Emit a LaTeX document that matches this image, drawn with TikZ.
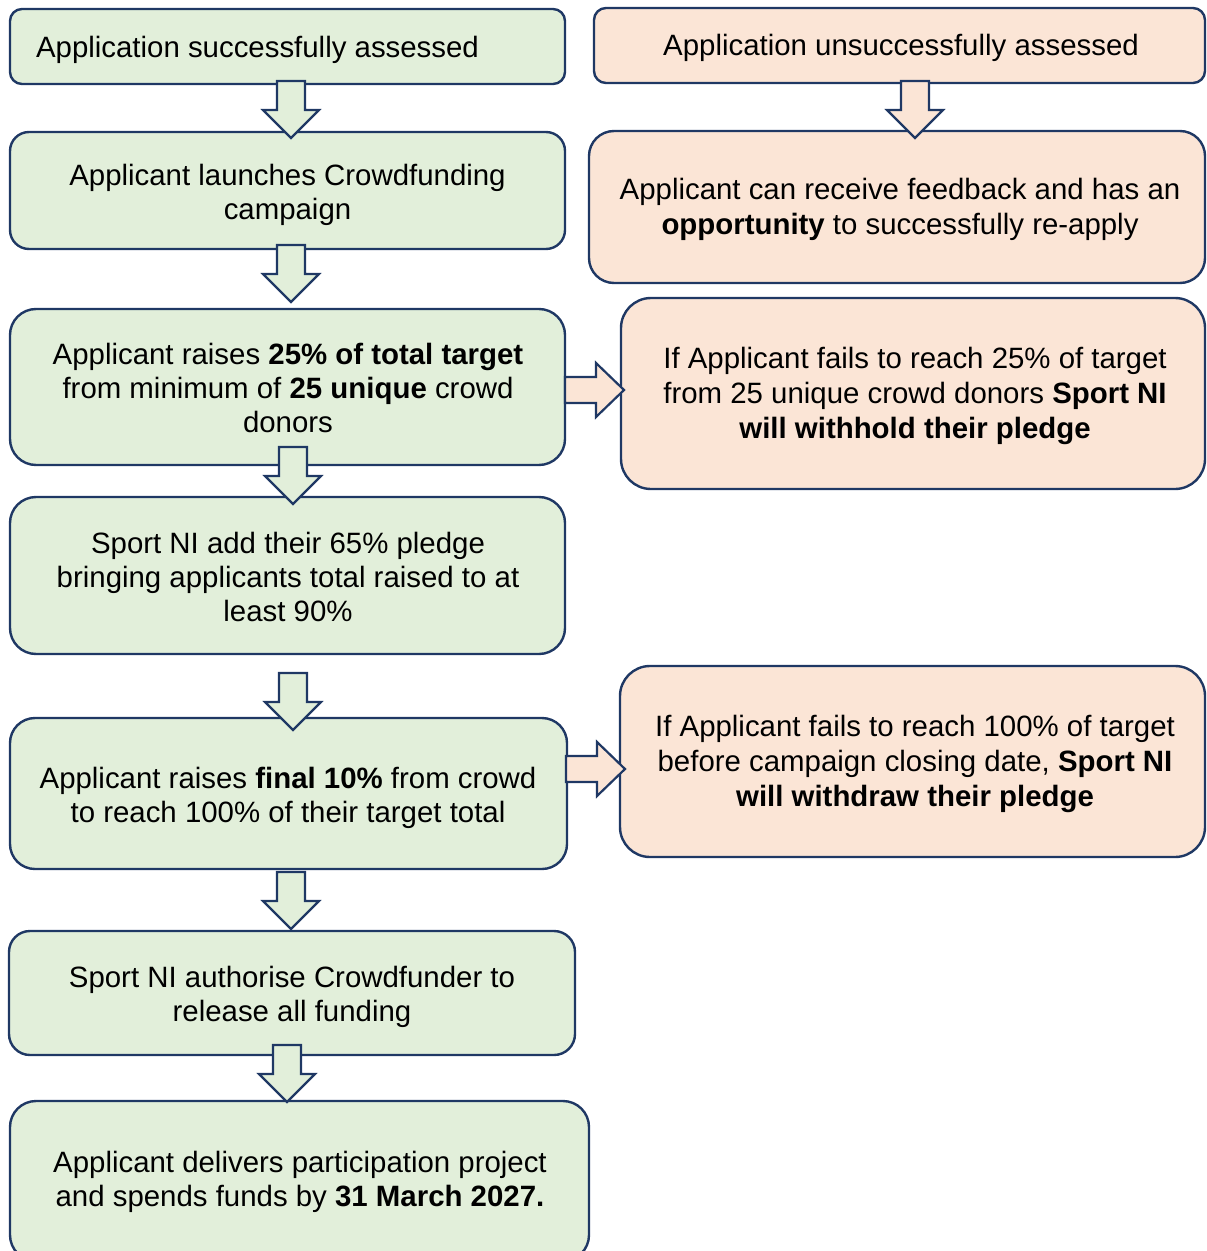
\documentclass[tikz,border=0pt]{standalone}
\usepackage{fontspec}
\setmainfont{Liberation Sans}
\definecolor{gfill}{HTML}{E2EFDA}
\definecolor{pfill}{HTML}{FBE5D6}
\definecolor{edgec}{HTML}{1F3864}
\newcommand\dnblock[3]{%
  \draw[blockarrow, fill=#3] (#1-14,#2) -- (#1+14,#2) -- (#1+14,#2+29) -- (#1+28,#2+29)
    -- (#1,#2+57) -- (#1-28,#2+29) -- (#1-14,#2+29) -- cycle;}
\newcommand\rtblock[2]{%
  \draw[blockarrow, fill=pfill] (#1,#2-13) -- (#1+31,#2-13) -- (#1+31,#2-27) -- (#1+59,#2)
    -- (#1+31,#2+27) -- (#1+31,#2+13) -- (#1,#2+13) -- cycle;}
\begin{document}
\begin{tikzpicture}[x=0.5pt,y=-0.5pt,
  box/.style={draw=edgec, line width=1.2pt, inner sep=0pt},
  gbox/.style={box, fill=gfill},
  pbox/.style={box, fill=pfill},
  txt/.style={inner sep=0pt, align=center, font=\fontsize{14.7}{17}\selectfont},
  ptxt/.style={txt, font=\fontsize{14.7}{17.5}\selectfont},
  blockarrow/.style={draw=edgec, line width=1.1pt, line join=miter}]
\useasboundingbox (0,0) rectangle (1206,1251);
\clip (0,0) rectangle (1206,1251);
% boxes
\node[gbox, minimum width=277.5pt, minimum height=37.5pt, rounded corners=6pt] (b1) at (287.5,46.5) {};
\node[txt] (t1) at (257.5,50) {Application successfully assessed};
\node[pbox, minimum width=305.5pt, minimum height=37.5pt, rounded corners=6pt] (b2) at (899.5,45.5) {};
\node[ptxt] (t2) at (901,48) {Application unsuccessfully assessed};
\node[gbox, minimum width=277.5pt, minimum height=58.5pt, rounded corners=9.5pt] (b3) at (287.5,190.5) {};
\node[txt] (t3) at (287.5,195) {Applicant launches Crowdfunding\\campaign};
\node[pbox, minimum width=308pt, minimum height=76pt, rounded corners=12.5pt] (b4) at (897,207) {};
\node[ptxt] (t4) at (900,209) {Applicant can receive feedback and has an\\\textbf{opportunity} to successfully re-apply};
\node[gbox, minimum width=277.5pt, minimum height=78pt, rounded corners=13pt] (b5) at (287.5,387) {};
\node[txt] (t5) at (288,387.5) {Applicant raises \textbf{25\% of total target}\\from minimum of \textbf{25 unique} crowd\\donors};
\node[pbox, minimum width=292pt, minimum height=95.5pt, rounded corners=15pt] (b6) at (913,393.5) {};
\node[ptxt] (t6) at (915,396) {If Applicant fails to reach 25\% of target\\from 25 unique crowd donors \textbf{Sport NI}\\\textbf{will withhold their pledge}};
\node[gbox, minimum width=277.5pt, minimum height=78.5pt, rounded corners=13pt] (b7) at (287.5,575.5) {};
\node[txt] (t7) at (288,577) {Sport NI add their 65\% pledge\\bringing applicants total raised to at\\least 90\%};
\node[gbox, minimum width=278.5pt, minimum height=75.5pt, rounded corners=12.5pt] (b8) at (288.5,793.5) {};
\node[txt] (t8) at (288,797.5) {Applicant raises \textbf{final 10\%} from crowd\\to reach 100\% of their target total};
\node[pbox, minimum width=292.5pt, minimum height=95.5pt, rounded corners=15pt] (b9) at (912.5,761.5) {};
\node[ptxt] (t9) at (915,764) {If Applicant fails to reach 100\% of target\\before campaign closing date, \textbf{Sport NI}\\\textbf{will withdraw their pledge}};
\node[gbox, minimum width=283pt, minimum height=62pt, rounded corners=10.5pt] (b10) at (292,993) {};
\node[txt] (t10) at (292,997) {Sport NI authorise Crowdfunder to\\release all funding};
\node[gbox, minimum width=289.5pt, minimum height=80pt, rounded corners=13pt] (b11) at (299.5,1181) {};
\node[txt] (t11) at (300,1182) {Applicant delivers participation project\\and spends funds by \textbf{31 March 2027.}};
% block arrows
\dnblock{291}{81}{gfill}
\dnblock{915}{81}{pfill}
\dnblock{291}{245}{gfill}
\dnblock{293}{447}{gfill}
\dnblock{293}{673}{gfill}
\dnblock{291}{872}{gfill}
\dnblock{287}{1045}{gfill}
\rtblock{565}{390}
\rtblock{566}{769}
\end{tikzpicture}
\end{document}
